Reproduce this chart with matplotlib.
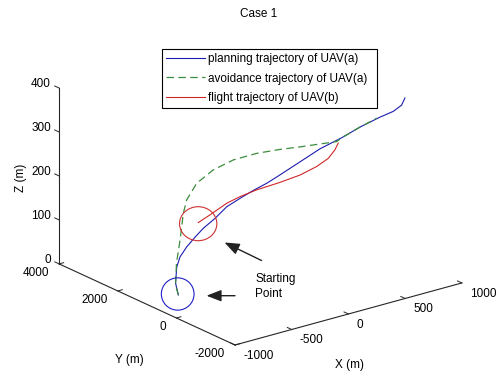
import numpy as np
import matplotlib
matplotlib.use('Agg')
import matplotlib.pyplot as plt
from matplotlib.patches import Ellipse, FancyArrowPatch

plt.rcParams['font.family'] = ['Liberation Sans', 'DejaVu Sans']
plt.rcParams['font.size'] = 8.5

# planning trajectory of UAV(a)
plan_x = [-713, -734, -725, -700, -650, -587, -524, -436, -347, -247, -146, -45, 55, 207, 358, 524, 660, 811, 912, 975, 1000]
plan_y = [1044, 1058, 1052, 1036, 1003, 963, 923, 866, 809, 744, 680, 615, 550, 453, 356, 249, 162, 64, 0, -41, -57]
plan_z = [0, 28, 64, 86, 106, 125, 142, 160, 182, 196, 209, 220, 234, 256, 278, 295, 312, 327, 335, 346, 361]

# avoidance trajectory of UAV(a)
avoid_x = [-713, -734, -727, -700, -675, -650, -574, -449, -297, -121, 55, 207, 358, 484, 524, 660, 788]
avoid_y = [1044, 1058, 1053, 1036, 1020, 1003, 955, 874, 777, 663, 550, 453, 356, 275, 249, 162, 79]
avoid_z = [0, 24, 73, 124, 184, 213, 247, 271, 286, 292, 292, 290, 289, 288, 295, 312, 326]

# flight trajectory of UAV(b)
uavb_x = [-562, -474, -347, -247, -121, 55, 207, 333, 420, 471, 496]
uavb_y = [947, 890, 809, 744, 663, 550, 453, 372, 315, 283, 267]
uavb_z = [157, 170, 190, 200, 209, 217, 226, 239, 253, 270, 284]

x_ticks = [-1000, -500, 0, 500, 1000]
y_ticks = [-2000, 0, 2000, 4000]
z_ticks = [0, 100, 200, 300, 400]

W, H = 496, 376
fig = plt.figure(figsize=(W / 100, H / 100), dpi=100)
ax = fig.add_axes([0, 0, 1, 1], projection='3d', proj_type='ortho')
ax.set_xlim(-1000, 1000)
ax.set_ylim(-2000, 4000)
ax.set_zlim(0, 400)
ax.set_box_aspect((1, 1.0066, 0.657))
ax.view_init(elev=20.8, azim=-127.6)
ax.set_axis_off()

ax.plot(plan_x, plan_y, plan_z, color='#1c1cb0', lw=0.8, label='planning trajectory of UAV(a)')
ax.plot(avoid_x, avoid_y, avoid_z, color='#3c8c3c', lw=0.9, dashes=(6, 3.5),
        label='avoidance trajectory of UAV(a)')
ax.plot(uavb_x, uavb_y, uavb_z, color='#d02828', lw=0.8, label='flight trajectory of UAV(b)')

# matlab-like axis lines
ac = '0.15'
ax.plot([-1000, -1000], [4000, 4000], [0, 400], color=ac, lw=0.8)
ax.plot([-1000, -1000], [-2000, 4000], [0, 0], color=ac, lw=0.8)
ax.plot([-1000, 1000], [-2000, -2000], [0, 0], color=ac, lw=0.8)
for z in z_ticks:
    ax.plot([-1000, -1000], [4000, 4150], [z, z], color=ac, lw=0.7)
    ax.text(-1000, 4283, z, str(z), ha='right', va='center')
for y in y_ticks:
    ax.plot([-1000, -960], [y, y], [0, 0], color=ac, lw=0.7)
    ax.text(-1088, y, -14, str(y), ha='right', va='center')
for x in x_ticks:
    ax.plot([x, x], [-2000, -1850], [0, 0], color=ac, lw=0.7)
    ax.text(x, -2273, -16, str(x), ha='left', va='center')
ax.text(-1159, 1000, -115, 'Y (m)', ha='center', va='center')
ax.text(0, -2051, -114, 'X (m)', ha='center', va='center')
ax.text(-1000, 5300, 156, 'Z (m)', zdir='z', ha='center', va='center')


def to_px(x, y, z):
    v = ax.get_proj() @ np.array([x, y, z, 1.0])
    return np.array(ax.transData.transform((v[0] / v[3], v[1] / v[3])))


# place the axes so the box corners land where they are in the picture
t1 = np.array([235, H - 345])
t2 = np.array([286, H - 26])
for _ in range(2):
    fig.canvas.draw()
    pos = ax.get_position()
    side = pos.width * W
    o = np.array([pos.x0 * W, pos.y0 * H])
    p1 = to_px(-1000, -2000, 0)
    p2 = to_px(1000, 4000, 400)
    s = np.linalg.norm(t2 - t1) / np.linalg.norm(p2 - p1)
    q1 = (p1 - o) / side
    side2 = side * s
    o2 = t1 - side2 * q1
    ax.set_position([o2[0] / W, o2[1] / H, side2 / W, side2 / H])

leg = ax.legend(loc='upper left', bbox_to_anchor=(162 / W, 1 - 105 / H, 215 / W, 56 / H),
                bbox_transform=fig.transFigure, mode='expand',
                fancybox=False, edgecolor='k', framealpha=1, borderpad=0.38, labelspacing=0.6,
                handlelength=3.3, handletextpad=0.25, borderaxespad=0)
leg.get_frame().set_linewidth(0.8)


def fpos(x, y):
    return (x / W, 1 - y / H)


fig.text(*fpos(258.7, 14), 'Case 1', ha='center', va='center')
fig.add_artist(Ellipse(fpos(177.7, 294), 32.7 / W, 32.3 / H, transform=fig.transFigure,
                       fill=False, ec='#2020c8', lw=0.8))
fig.add_artist(Ellipse(fpos(198.2, 223.7), 37.3 / W, 34 / H, transform=fig.transFigure,
                       fill=False, ec='#d03030', lw=0.8))
for a, b in [((261.5, 260.5), (224.5, 242.5)), ((235, 295.7), (206.5, 295.7))]:
    fig.add_artist(FancyArrowPatch(fpos(*a), fpos(*b), transform=fig.transFigure,
                                   arrowstyle='-|>,head_length=0.9,head_width=0.35', mutation_scale=10,
                                   color='#222222', lw=1.0, shrinkA=0, shrinkB=0))
fig.text(*fpos(255.3, 286.5), 'Starting\nPoint', ha='left', va='center', linespacing=1.3)

fig.savefig('out.png', dpi=100)
